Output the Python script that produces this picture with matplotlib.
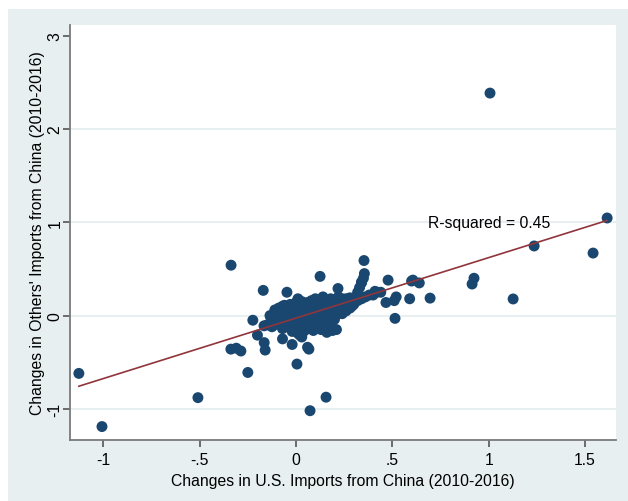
import matplotlib
matplotlib.use("Agg")
import matplotlib.pyplot as plt
import numpy as np
from matplotlib.patches import Rectangle

plt.rcParams['font.family'] = ['Liberation Sans', 'DejaVu Sans']

# Outlying / sparse points
sparse_x = [-1.127, -1.007, -0.509, -0.337, -0.338, -0.31, -0.286, -0.25, -0.224, -0.2,
            -0.165, -0.16, -0.166, -0.135, -0.125, -0.17, -0.047, -0.07, -0.02, 0.005,
            0.067, 0.073, 0.025, 0.156, 0.125, 0.06, 0.353, 0.355, 0.218, 0.34,
            0.41, 0.478, 0.6, 0.607, 0.64, 0.514, 0.467, 0.51, 0.52, 0.59,
            0.696, 0.914, 0.924, 1.007, 1.127, 1.236, 1.542, 1.615, 0.03, 0.13]
sparse_y = [-0.62, -1.19, -0.88, 0.54, -0.36, -0.35, -0.38, -0.61, -0.05, -0.21,
            -0.29, -0.37, -0.11, 0.0, -0.12, 0.27, 0.25, -0.25, -0.31, -0.52,
            -0.36, -1.02, -0.21, -0.875, 0.42, -0.34, 0.59, 0.45, 0.29, 0.36,
            0.26, 0.38, 0.37, 0.38, 0.35, -0.03, 0.14, 0.16, 0.2, 0.18,
            0.187, 0.338, 0.40, 2.385, 0.178, 0.746, 0.67, 1.046, -0.23, -0.15]

# Dense central cluster
dense_x = [-0.15, -0.13, -0.12, -0.10, -0.10, -0.08, -0.08, -0.07, -0.06, -0.05,
           -0.05, -0.04, -0.03, -0.03, -0.02, -0.02, -0.01, -0.01, 0.00, 0.00,
           0.00, 0.01, 0.01, 0.01, 0.02, 0.02, 0.03, 0.03, 0.04, 0.04,
           0.05, 0.05, 0.05, 0.06, 0.06, 0.07, 0.07, 0.08, 0.08, 0.09,
           0.09, 0.10, 0.10, 0.10, 0.11, 0.11, 0.12, 0.12, 0.13, 0.13,
           0.14, 0.14, 0.15, 0.15, 0.16, 0.16, 0.17, 0.17, 0.18, 0.18,
           0.19, 0.19, 0.20, 0.20, 0.21, 0.21, 0.22, 0.22, 0.23, 0.24,
           0.25, 0.26, 0.27, 0.28, 0.29, 0.30, 0.31, 0.32, 0.33, 0.34,
           0.30, 0.32, 0.34, 0.35, 0.36, 0.38, 0.40, 0.42, 0.44, 0.12,
           0.14, 0.16, 0.18, 0.08, 0.06, 0.10, 0.02, 0.04, 0.20, 0.24,
           -0.04, -0.02, 0.00, 0.02, 0.03, 0.04, 0.05, 0.06, 0.07, 0.08,
           0.09, 0.10, 0.11, 0.12, 0.13, 0.14, 0.15, 0.16, 0.17, 0.18,
           0.19, 0.20, 0.21, 0.22, 0.23, 0.24, 0.25, 0.26, 0.27, 0.28,
           -0.01, 0.01, 0.03, 0.05, 0.07, 0.09, 0.11, 0.13, 0.15, 0.17,
           0.19, 0.21, 0.23, 0.02, 0.06, 0.10, 0.14, 0.18, 0.22, 0.26,
           -0.12, -0.11, -0.10, -0.09, -0.08, -0.07, -0.06, -0.05, -0.04, -0.03,
           -0.02, -0.01, 0.00, -0.11, -0.09, -0.07, -0.05, -0.03, -0.01, 0.01,
           -0.10, -0.08, -0.06, -0.04, -0.02, 0.00, -0.06, -0.03, -0.09, -0.05]
dense_y = [-0.10, -0.02, -0.11, -0.05, 0.03, 0.00, -0.08, -0.14, 0.05, -0.02,
           -0.11, 0.08, 0.02, -0.06, 0.10, -0.17, 0.03, -0.04, 0.14, -0.11,
           0.05, -0.04, 0.18, -0.19, 0.06, -0.12, 0.01, 0.15, -0.08, 0.10,
           0.04, -0.15, 0.12, -0.02, 0.08, 0.02, -0.10, 0.10, -0.05, 0.05,
           -0.16, 0.12, 0.00, -0.08, 0.07, -0.12, 0.14, 0.02, -0.05, 0.10,
           0.05, -0.14, 0.12, -0.02, 0.08, -0.18, 0.15, 0.03, -0.08, 0.10,
           0.05, -0.16, 0.13, 0.00, 0.08, -0.15, 0.20, 0.05, 0.12, 0.16,
           0.10, 0.15, 0.12, 0.08, 0.10, 0.14, 0.20, 0.25, 0.30, 0.35,
           0.12, 0.16, 0.18, 0.40, 0.20, 0.22, 0.22, 0.25, 0.25, 0.17,
           0.20, -0.10, 0.18, 0.16, 0.14, 0.18, -0.21, -0.17, -0.04, 0.02,
           0.04, 0.06, 0.05, 0.07, 0.04, 0.09, 0.06, 0.10, 0.05, 0.11,
           0.07, 0.09, 0.12, 0.06, 0.13, 0.08, 0.14, 0.10, 0.12, 0.15,
           0.11, 0.17, 0.13, 0.16, 0.14, 0.18, 0.15, 0.18, 0.16, 0.19,
           -0.02, 0.00, 0.02, 0.01, 0.03, 0.02, 0.04, 0.05, 0.06, 0.07,
           0.08, 0.09, 0.10, -0.06, -0.04, -0.03, -0.01, 0.00, 0.02, 0.05,
           0.00, 0.02, 0.04, 0.01, 0.05, 0.03, 0.06, 0.02, 0.07, 0.04,
           0.08, 0.05, 0.09, 0.06, 0.08, 0.10, 0.04, 0.09, 0.07, 0.10,
           -0.01, 0.03, 0.00, 0.05, 0.02, 0.07, 0.11, 0.12, 0.06, 0.01]

xticks = [-1, -0.5, 0, 0.5, 1, 1.5]
xticklabels = ['-1', '-.5', '0', '.5', '1', '1.5']
yticks = [-1, 0, 1, 2, 3]
yticklabels = ['-1', '0', '1', '2', '3']
r2_label = 'R-squared = 0.45'

bg = '#e7eff1'
navy = '#1a476f'
maroon = '#90353b'
fs = 11.3

fig = plt.figure(figsize=(6.28, 5.02), dpi=100)
fig.patch.set_facecolor('white')
fig.patches.append(Rectangle((8/628, 0), 1 - 8/628, 1 - 10/502, transform=fig.transFigure,
                             facecolor=bg, edgecolor='none', zorder=-10))
ax = fig.add_axes([70/628, 61/502, 546/628, 415/502])
ax.set_facecolor('white')

x_all = np.array(sparse_x + dense_x)
y_all = np.array(sparse_y + dense_y)

ax.scatter(x_all, y_all, s=62, color=navy, edgecolors='none', zorder=3)

b, a = np.polyfit(x_all, y_all, 1)
xl = np.array([x_all.min(), x_all.max()])
ax.plot(xl, a + b * xl, color=maroon, lw=1.2, zorder=4)

ax.text(1.0, 1.0, r2_label, ha='center', va='center', fontsize=fs, zorder=5)

ax.set_xlim(-1.173, 1.661)
ax.set_ylim(-1.334, 3.115)
ax.set_xticks(xticks)
ax.set_xticklabels(xticklabels, fontsize=fs)
ax.set_yticks(yticks)
ax.set_yticklabels(yticklabels, fontsize=fs, rotation=90, va='center')
for gy in [-1, 0, 1, 2]:
    ax.axhline(gy, color='#e3ecee', lw=1.2, zorder=1)

for s in ['top', 'right']:
    ax.spines[s].set_visible(False)
for s in ['left', 'bottom']:
    ax.spines[s].set_color('#7a7a7a')
    ax.spines[s].set_linewidth(1.3)
ax.tick_params(axis='x', direction='out', length=5, width=1.2, color='#555555', pad=4)
ax.tick_params(axis='y', direction='out', length=5, width=1.2, color='#555555', pad=0.5)

ax.set_xlabel('Changes in U.S. Imports from China (2010-2016)', fontsize=fs, labelpad=4)
ax.set_ylabel("Changes in Others' Imports from China (2010-2016)", fontsize=fs, labelpad=1.5)

fig.savefig('out.png', dpi=100, facecolor=fig.get_facecolor())
